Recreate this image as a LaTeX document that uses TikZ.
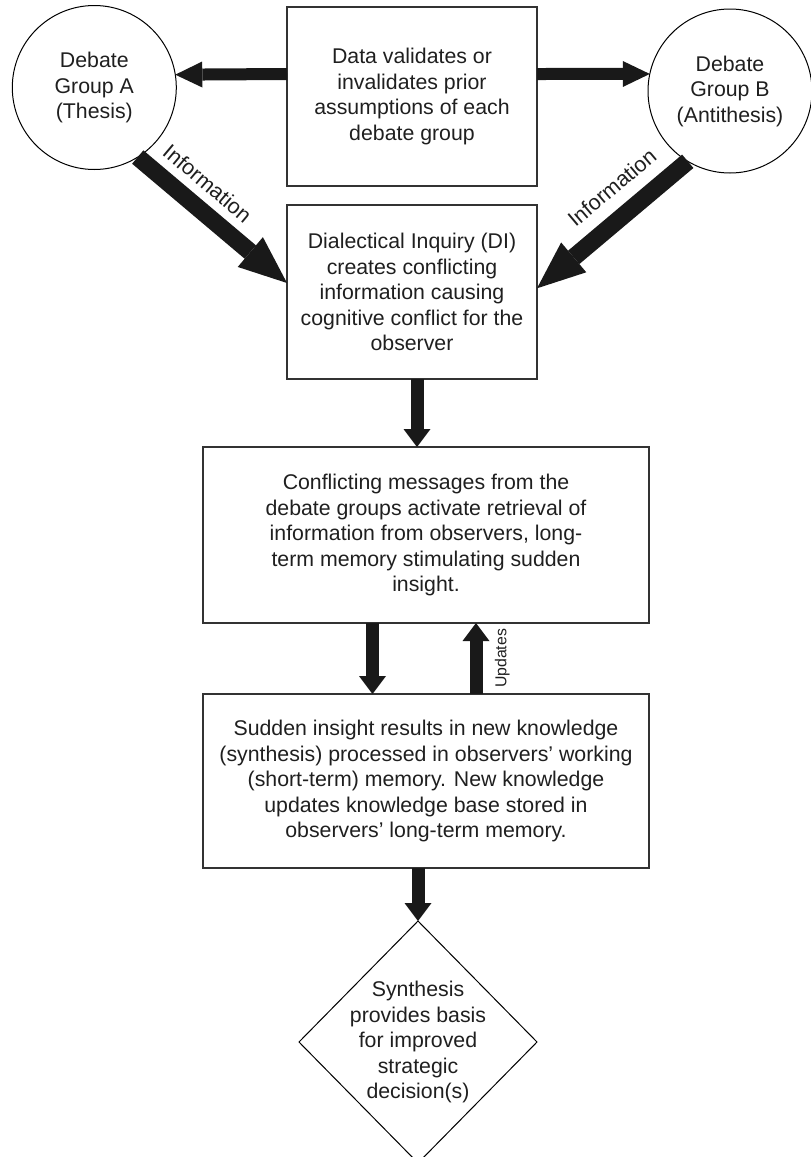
\documentclass[tikz,border=0pt]{standalone}
\usepackage{fontspec}
\setmainfont{Liberation Sans}
\usetikzlibrary{arrows.meta,shapes.geometric,calc}

\begin{document}
\begin{tikzpicture}[x=1pt,y=-1pt,
  every node/.style={font=\fontsize{21.3}{25.5}\selectfont, text=black!88,
    align=center, inner sep=0pt, outer sep=0pt},
  box/.style={rectangle, draw=black!80, line width=1.4pt},
  grp/.style={circle, draw=black, line width=1pt, minimum size=164pt},
  decision/.style={diamond, draw=black, line width=1pt},
  hbar/.style={black!90, line width=12pt,
    -{Triangle[length=27pt,width=26pt,line width=0pt]}},
  vbar/.style={black!90, line width=13pt,
    -{Triangle[length=18pt,width=27pt,line width=0pt]}},
  dbar/.style={black!90, line width=17.5pt,
    -{Triangle[length=48pt,width=39pt,line width=0pt]}},
  tag/.style={font=\fontsize{21.5}{24}\selectfont},
  smalltag/.style={font=\fontsize{15.8}{18}\selectfont}
]
\useasboundingbox (0,0) rectangle (811,1157);

% debate groups and the data box between them
\node[box, minimum width=250pt, minimum height=179pt] (T) at (412,96.5)
  {Data validates or\\invalidates prior\\assumptions of each\\debate group};
\node[grp] (A) at (94.3,87.5) {Debate\\Group A\\(Thesis)};
\node[grp] (B) at (730,91) {Debate\\Group B\\(Antithesis)};

% process chain
\node[box, minimum width=250pt, minimum height=174pt] (DI) at (412,292)
  {Dialectical Inquiry (DI)\\creates conflicting\\information causing\\cognitive conflict for the\\observer};
\node[box, minimum width=446pt, minimum height=176pt] (C) at (426,535)
  {Conflicting messages from the\\debate groups activate retrieval of\\information from observers, long-\\term memory stimulating sudden\\insight.};
\node[box, minimum width=446pt, minimum height=174pt] (S) at (426,781)
  {Sudden insight results in new knowledge\\(synthesis) processed in observers’ working\\(short-term) memory. New knowledge\\updates knowledge base stored in\\observers’ long-term memory.};
\node[decision, minimum width=238pt, minimum height=242pt,
  label={center:Synthesis\\provides basis\\for improved\\strategic\\decision(s)}] (D) at (418,1042) {};

% connectors
\draw[hbar] ([yshift=22.5pt]T.west) -- (A.9.5);
\draw[hbar] ([yshift=22.5pt]T.east) -- (B.168);
\draw[dbar] (A.-58) -- node[tag, sloped, pos=0.36, above=17pt] {Information} ([yshift=9pt]DI.west);
\draw[dbar] (B.-121) -- node[tag, sloped, pos=0.38, above=21pt] {Information} ([yshift=3.7pt]DI.east);
\draw[vbar] ([xshift=5pt]DI.south) -- ([xshift=-9pt]C.north);
\draw[vbar] ([xshift=-53.5pt]C.south) -- ([xshift=-53.5pt]S.north);
\draw[vbar] ([xshift=50pt]S.north) -- node[smalltag, sloped, below=19pt] {Updates} ([xshift=50pt]C.south);
\draw[vbar] ([xshift=-8pt]S.south) -- (D.north);
\end{tikzpicture}
\end{document}
